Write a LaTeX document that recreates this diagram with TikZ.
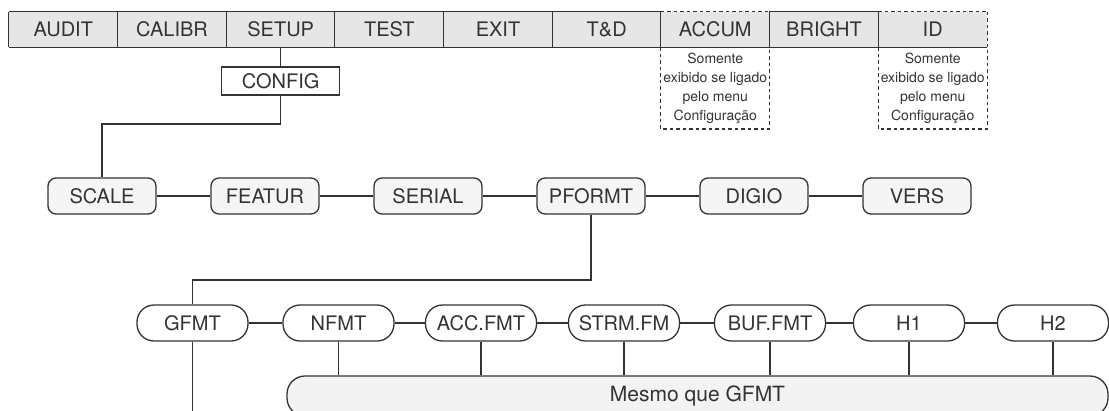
\documentclass[tikz,border=0pt]{standalone}
\usepackage{fontspec}
\setmainfont{TeX Gyre Heros}
\definecolor{lc}{HTML}{333333}
\definecolor{tc}{HTML}{333333}
\definecolor{barfill}{HTML}{E6E6E6}
\definecolor{rowfill}{HTML}{F5F5F5}
\definecolor{boxfill}{HTML}{F3F3F3}
\begin{document}
\begin{tikzpicture}[x=1pt,y=-1pt,
  line/.style={draw=lc, line width=1.3pt},
  dline/.style={draw=lc, line width=1.3pt, dash pattern=on 3.5pt off 3pt},
  lbl/.style={text=tc, font=\fontsize{20}{22}\selectfont, inner sep=0pt},
  cell/.style={lbl, fill=barfill, minimum width=108.67pt, minimum height=35pt},
  cfgbox/.style={lbl, line, fill=white, minimum width=118pt, minimum height=28pt},
  rbox/.style={lbl, line, fill=rowfill, rounded corners=8pt, minimum width=108pt, minimum height=36pt},
  pill/.style={lbl, line, fill=white, rounded corners=17pt, minimum width=111pt, minimum height=36pt},
  note/.style={text=tc, font=\fontsize{14}{19}\selectfont, align=center, inner sep=0pt},
  bigbox/.style={lbl, line, fill=boxfill, rounded corners=18pt, minimum width=821pt, minimum height=40pt, font=\fontsize{21}{23}\selectfont}
]
\useasboundingbox (0,0) rectangle (1109,410);
\clip (0,0) rectangle (1109,410);

% top bar
\node[cell] (audit)  at (63.3,29.5) {AUDIT};
\node[cell] (calibr) at (172.0,29.5) {CALIBR};
\node[cell] (setup)  at (280.7,29.5) {SETUP};
\node[cell] (test)   at (389.3,29.5) {TEST};
\node[cell] (exit)   at (498.0,29.5) {EXIT};
\node[cell] (td)     at (606.7,29.5) {T\&D};
\node[cell] (accum)  at (715.3,29.5) {ACCUM};
\node[cell] (bright) at (824.0,29.5) {BRIGHT};
\node[cell] (id)     at (932.7,29.5) {ID};

\draw[line] (audit.north west) -- (td.north east);
\draw[dline] (accum.north west) -- (accum.north east);
\draw[line] (bright.north west) -- (bright.north east);
\draw[dline] (id.north west) -- (id.north east);
\draw[line] (audit.south west) -- (id.south east);
\foreach \c in {audit,calibr,setup,test,exit,td,accum,bright,id}
  \draw[line] (\c.north west) -- (\c.south west);
\draw[line] (bright.north east) -- (bright.south east);
\draw[dline] (id.north east) -- (id.south east);

% dashed notes
\coordinate (notebot) at (0,129);
\draw[dline] (accum.south west) -- (accum.south west |- notebot) -- (accum.south east |- notebot) -- (accum.south east);
\draw[dline] (id.south west) -- (id.south west |- notebot) -- (id.south east |- notebot) -- (id.south east);
\node[note] (accnote) at (715.3,88) {Somente\\exibido se ligado\\pelo menu\\Configuração};
\node[note] (idnote) at (932.7,88) {Somente\\exibido se ligado\\pelo menu\\Configuração};

% config
\node[cfgbox] (config) at (280.7,81) {CONFIG};
\draw[line] (setup.south) -- (config.north);

% row 2
\node[rbox] (scale)  at (102,196) {SCALE};
\node[rbox] (featur) at (265,196) {FEATUR};
\node[rbox] (serial) at (428,196) {SERIAL};
\node[rbox] (pformt) at (591,196) {PFORMT};
\node[rbox] (digio)  at (754,196) {DIGIO};
\node[rbox] (vers)   at (917,196) {VERS};
\coordinate (cfgturn) at (0,124);
\draw[line] (config.south) -- (config.south |- cfgturn) -- (scale.north |- cfgturn) -- (scale.north);
\draw[line] (scale.east) -- (featur.west);
\draw[line] (featur.east) -- (serial.west);
\draw[line] (serial.east) -- (pformt.west);
\draw[line] (pformt.east) -- (digio.west);
\draw[line] (digio.east) -- (vers.west);

% row 3
\node[pill] (gfmt)  at (192.5,323) {GFMT};
\node[pill] (nfmt)  at (338.5,323) {NFMT};
\node[pill] (accf)  at (481,323) {ACC.FMT};
\node[pill] (strm)  at (624,323) {STRM.FM};
\node[pill] (buf)   at (770,323) {BUF.FMT};
\node[pill] (h1)    at (909,323) {H1};
\node[pill] (h2)    at (1053,323) {H2};
\coordinate (pfturn) at (0,280);
\draw[line] (pformt.south) -- (pformt.south |- pfturn) -- (gfmt.north |- pfturn) -- (gfmt.north);
\draw[line] (gfmt.east) -- (nfmt.west);
\draw[line] (nfmt.east) -- (accf.west);
\draw[line] (accf.east) -- (strm.west);
\draw[line] (strm.east) -- (buf.west);
\draw[line] (buf.east) -- (h1.west);
\draw[line] (h1.east) -- (h2.west);
\coordinate (gend) at (192.5,414);
\draw[line] (gfmt.south) -- (gend);

% same-as box
\node[bigbox] (same) at (697.5,396) {Mesmo que GFMT};
\foreach \c in {nfmt,accf,strm,buf,h1,h2}
  \draw[line] (\c.south) -- (\c.south |- same.north);
\end{tikzpicture}
\end{document}
